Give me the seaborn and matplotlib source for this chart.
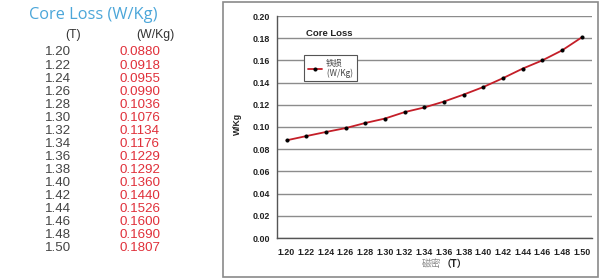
import matplotlib
matplotlib.use("Agg")
import matplotlib.pyplot as plt
import seaborn as sns
import pandas as pd
from matplotlib.patches import Rectangle

flux = ["1.20", "1.22", "1.24", "1.26", "1.28", "1.30", "1.32", "1.34",
        "1.36", "1.38", "1.40", "1.42", "1.44", "1.46", "1.48", "1.50"]
loss = [0.0880, 0.0918, 0.0955, 0.0990, 0.1036, 0.1076, 0.1134, 0.1176,
        0.1229, 0.1292, 0.1360, 0.1440, 0.1526, 0.1600, 0.1690, 0.1807]
loss_text = ["0.0880", "0.0918", "0.0955", "0.0990", "0.1036", "0.1076", "0.1134", "0.1176",
             "0.1229", "0.1292", "0.1360", "0.1440", "0.1526", "0.1600", "0.1690", "0.1807"]
yticks = [0.00, 0.02, 0.04, 0.06, 0.08, 0.10, 0.12, 0.14, 0.16, 0.18, 0.20]

sns.set_theme(style="white")
plt.rcParams['font.family'] = ['Liberation Sans', 'Noto Sans CJK SC', 'DejaVu Sans']
CJK = ['Noto Sans CJK SC', 'Liberation Sans', 'DejaVu Sans']

W, H = 600, 278
fig = plt.figure(figsize=(6, 2.78), dpi=100)

def fx(px):
    return px / W

def fy(py):
    return 1 - py / H

# ---- left table ----
fig.text(fx(93.5), fy(15), "Core Loss (W/Kg)", color="#4BA6D9", fontsize=11.8,
         ha="center", va="center", family=['Open Sans', 'DejaVu Sans'])
fig.text(fx(73), fy(35), "(T)", color="#333333", fontsize=8.8, ha="center", va="center")
fig.text(fx(155), fy(35), "(W/Kg)", color="#333333", fontsize=8.8, ha="center", va="center")
for i, (f, v) in enumerate(zip(flux, loss_text)):
    y = 52.5 + i * 13.05
    fig.text(fx(58), fy(y), f, color="#444444", fontsize=9.6, ha="center", va="center")
    fig.text(fx(139.5), fy(y), v, color="#E0303A", fontsize=9.6, ha="center", va="center")

# ---- outer chart box ----
fig.patches.append(Rectangle((fx(222.5), fy(276.5)), fx(597.5 - 222.5), (276.5 - 1.5) / H,
                             transform=fig.transFigure, fill=False,
                             edgecolor="#8a8a8a", linewidth=1.2))

# ---- chart ----
ax = fig.add_axes([fx(276.7), fy(238), fx(591.5 - 276.7), (238 - 16) / H])
df = pd.DataFrame({"idx": list(range(len(flux))), "loss": loss})
sns.lineplot(data=df, x="idx", y="loss", ax=ax, color="#C41E28", linewidth=1.3,
             marker="o", markersize=2.2, markerfacecolor="black", markeredgecolor="black",
             label="铁损\n (W/Kg)")

ax.set_xlim(-0.5, len(flux) - 0.5)
ax.set_ylim(0, 0.20)
ax.set_yticks(yticks)
ax.set_yticklabels([f"{t:.2f}" for t in yticks], fontsize=6.4, fontweight="bold", color="#222222")
ax.set_xticks(range(len(flux)))
ax.set_xticklabels(flux, fontsize=6.4, fontweight="bold", color="#222222")
ax.set_xticks([i + 0.5 for i in range(-1, len(flux))], minor=True)
ax.tick_params(axis="x", which="major", length=0, pad=7)
ax.tick_params(axis="x", which="minor", length=2.5, direction="in", color="#444444", width=0.8)
ax.tick_params(axis="y", which="major", length=0, pad=5)
ax.grid(axis="y", color="#8c8c8c", linewidth=1.0)
ax.set_axisbelow(True)
for s in ["top", "right"]:
    ax.spines[s].set_visible(False)
for s in ["left", "bottom"]:
    ax.spines[s].set_color("#555555")
    ax.spines[s].set_linewidth(1.0)

ax.set_xlabel("")
ax.set_ylabel("")
fig.text(fx(237), fy(124), "W/Kg", fontsize=6.2, fontweight="bold", color="#222222",
         rotation=90, ha="center", va="center")
fig.text(fx(441), fy(267), "磁密", fontsize=7, color="#8a8a8a", ha="right", va="baseline",
         family=CJK)
fig.text(fx(442), fy(267), "（T）", fontsize=7, color="#222222", ha="left", va="baseline",
         fontweight="bold", family=CJK)

ax.text(0.094, 0.923, "Core Loss", transform=ax.transAxes, fontsize=6.8, fontweight="bold",
        color="#222222", ha="left", va="center")

leg = ax.legend(loc="upper left", bbox_to_anchor=(0.087, 0.825), fontsize=6,
                frameon=True, fancybox=False, handlelength=1.7, handletextpad=0.4,
                borderpad=0.45, borderaxespad=0, framealpha=1,
                prop={'family': CJK, 'size': 6})
leg.get_frame().set_edgecolor("#555555")
leg.get_frame().set_linewidth(0.8)
for t in leg.get_texts():
    t.set_color("#444444")
    t.set_linespacing(1.1)

fig.savefig("out.png", dpi=100)
